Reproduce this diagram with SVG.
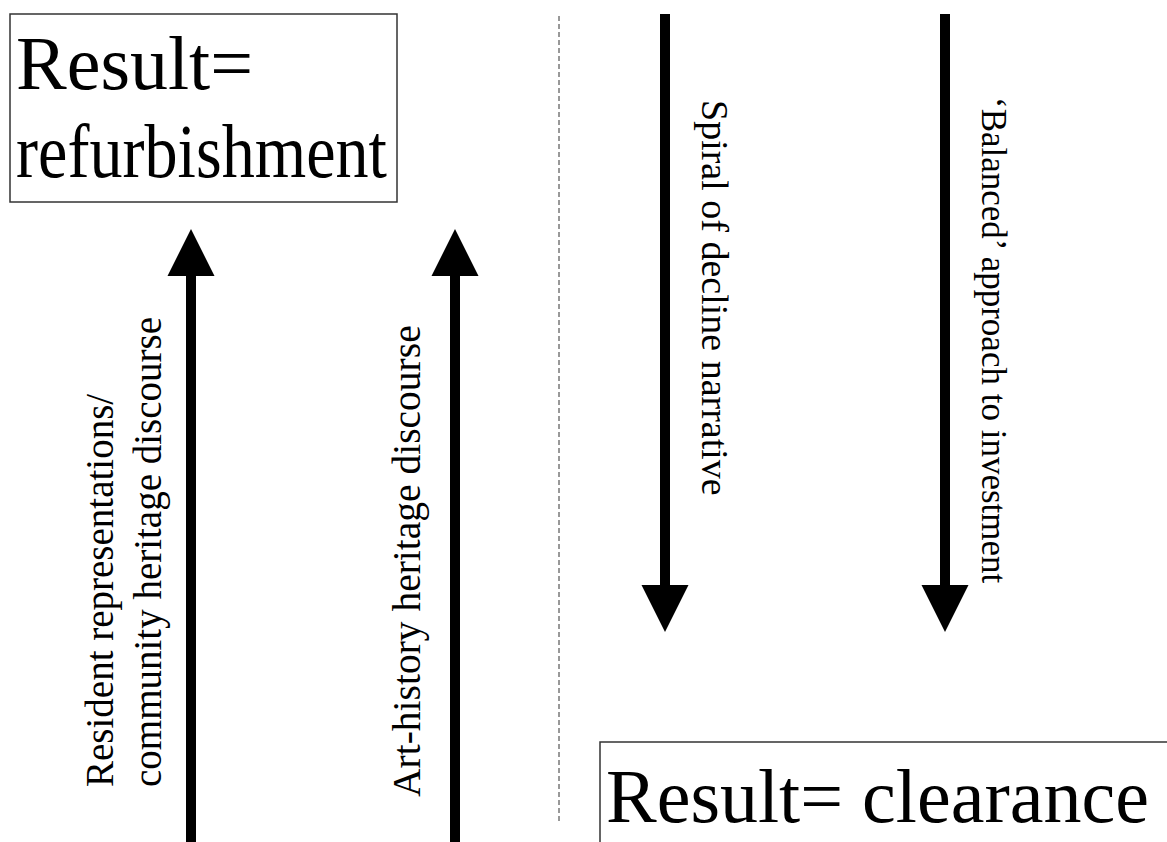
<svg xmlns="http://www.w3.org/2000/svg" width="1167" height="842" viewBox="0 0 1167 842">
<style>
.box{fill:#fff;stroke:#333;stroke-width:1.5}
.big{font-family:"Liberation Serif","Times New Roman",serif;font-size:76px;fill:#000}
.lbl{font-family:"Liberation Serif","Times New Roman",serif;font-size:38px;fill:#000}
.shaft{stroke:#000;stroke-width:10;fill:none}
.head{fill:#000}
.divider{stroke:#333;stroke-width:1;stroke-dasharray:5 3;fill:none}
</style>
<rect width="1167" height="842" fill="#fff"/>
<g id="node-refurbishment">
<rect class="box" x="10" y="14" width="387" height="188"/>
<text class="big" x="16" y="89">Result=</text>
<text class="big" x="16" y="177" textLength="371" lengthAdjust="spacingAndGlyphs">refurbishment</text>
</g>
<g id="node-clearance">
<rect class="box" x="600" y="742" width="600" height="140"/>
<text class="big" x="606" y="822">Result= clearance</text>
</g>
<g id="connectors">
<line class="divider" x1="559" y1="16" x2="559" y2="822"/>
<line class="shaft" x1="191" y1="842" x2="191" y2="270"/>
<polygon class="head" points="191,229 214.5,276 167.5,276"/>
<line class="shaft" x1="455" y1="842" x2="455" y2="270"/>
<polygon class="head" points="455,229 478.5,276 431.5,276"/>
<line class="shaft" x1="665" y1="14" x2="665" y2="590"/>
<polygon class="head" points="665,632 688.5,585 641.5,585"/>
<line class="shaft" x1="945" y1="14" x2="945" y2="590"/>
<polygon class="head" points="945,632 968.5,585 921.5,585"/>
</g>
<g id="label-resident">
<text class="lbl" style="font-size:39px" transform="translate(113,787) rotate(-90)">Resident representations/</text>
<text class="lbl" style="font-size:39px" transform="translate(161,787) rotate(-90)">community heritage discourse</text>
</g>
<g id="label-arthistory">
<text class="lbl" style="font-size:39.5px" transform="translate(420,797) rotate(-90)">Art-history heritage discourse</text>
</g>
<g id="label-spiral">
<text class="lbl" transform="translate(702,100) rotate(90)">Spiral of decline narrative</text>
</g>
<g id="label-balanced">
<text class="lbl" style="font-size:35px" transform="translate(982,97) rotate(90)">‘Balanced’ approach to investment</text>
</g>
</svg>
